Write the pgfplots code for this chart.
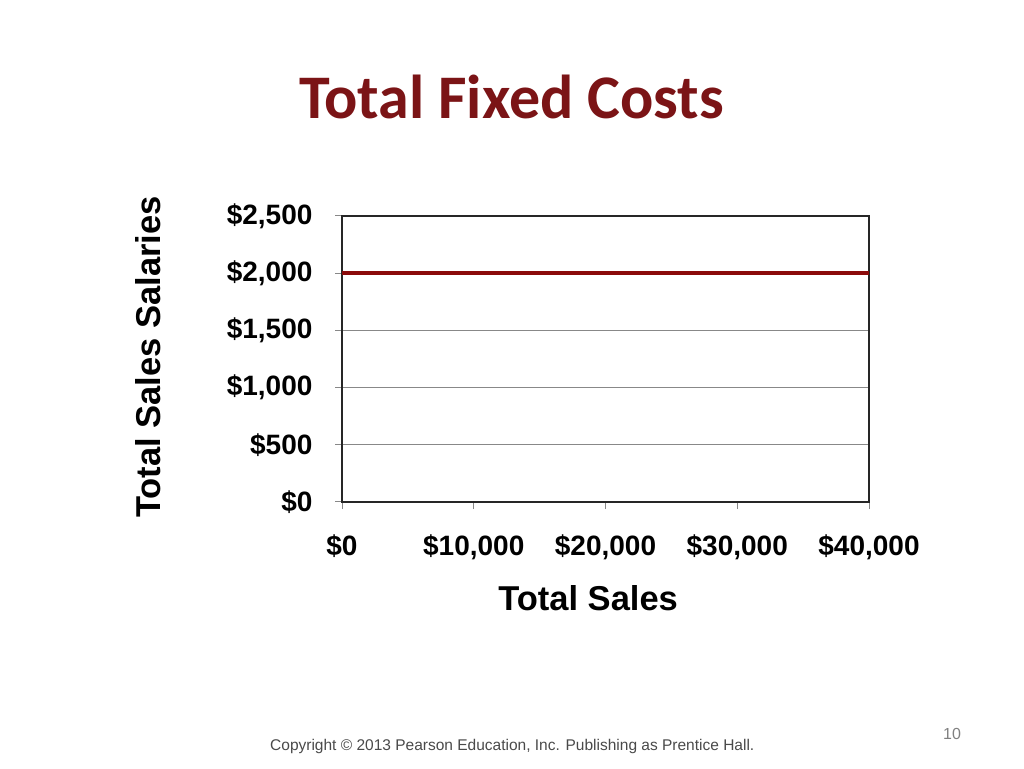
\documentclass[border=0pt]{standalone}
\usepackage{pgfplots}
\pgfplotsset{compat=1.18}
\usepackage{fontspec}
\setmainfont{Liberation Sans}
\newfontfamily\calibri{Carlito}
\definecolor{titlered}{HTML}{7B1416}
\definecolor{linered}{HTML}{8B0A0A}
\definecolor{gridgray}{HTML}{888888}
\definecolor{copygray}{HTML}{4A4A4A}
\begin{document}
\begin{tikzpicture}[x=1pt,y=1pt]
\path[use as bounding box, fill=white] (0,0) rectangle (1024,768);
\node[text=titlered, font={\calibri\bfseries\fontsize{62}{68}\selectfont}] at (511.5,671) {Total Fixed Costs};
\begin{axis}[
  at={(342pt,266pt)}, anchor=south west,
  width=527pt, height=286pt, scale only axis,
  xmin=0, xmax=40000, ymin=0, ymax=2500,
  scaled x ticks=false, scaled y ticks=false,
  xtick={0,10000,20000,30000,40000},
  xticklabels={{\$0},{\$10,000},{\$20,000},{\$30,000},{\$40,000}},
  ytick={0,500,1000,1500,2000,2500},
  yticklabels={{\$0},{\$500},{\$1,000},{\$1,500},{\$2,000},{\$2,500}},
  tick align=outside, major tick length=7pt,
  tick style={gridgray, line width=1pt},
  xtick pos=bottom, ytick pos=left,
  ymajorgrids, grid style={gridgray, line width=1pt},
  axis line style={black!85, line width=1.2pt},
  ticklabel style={font={\bfseries\fontsize{28}{30}\selectfont}},
  xticklabel style={yshift=-22pt},
  yticklabel style={xshift=-19pt},
  xlabel={Total Sales}, ylabel={Total Sales Salaries},
  label style={font={\bfseries\fontsize{34.5}{37}\selectfont}},
  xlabel style={at={(axis description cs:0.467,-0.336)}, anchor=center},
  ylabel style={at={(axis description cs:-0.368,0.507)}, anchor=center, rotate=0},
]
\addplot[linered, line width=4pt] coordinates {(0,2000) (40000,2000)};
\end{axis}
\node[anchor=west, inner sep=0pt, text=copygray, font={\fontsize{15.5}{18}\selectfont}] at (270,22) {Copyright \textcopyright{} 2013 Pearson Education, Inc. Publishing as Prentice Hall.};
\node[text=gray, font={\fontsize{16}{18}\selectfont}] at (952,34) {10};
\end{tikzpicture}
\end{document}
